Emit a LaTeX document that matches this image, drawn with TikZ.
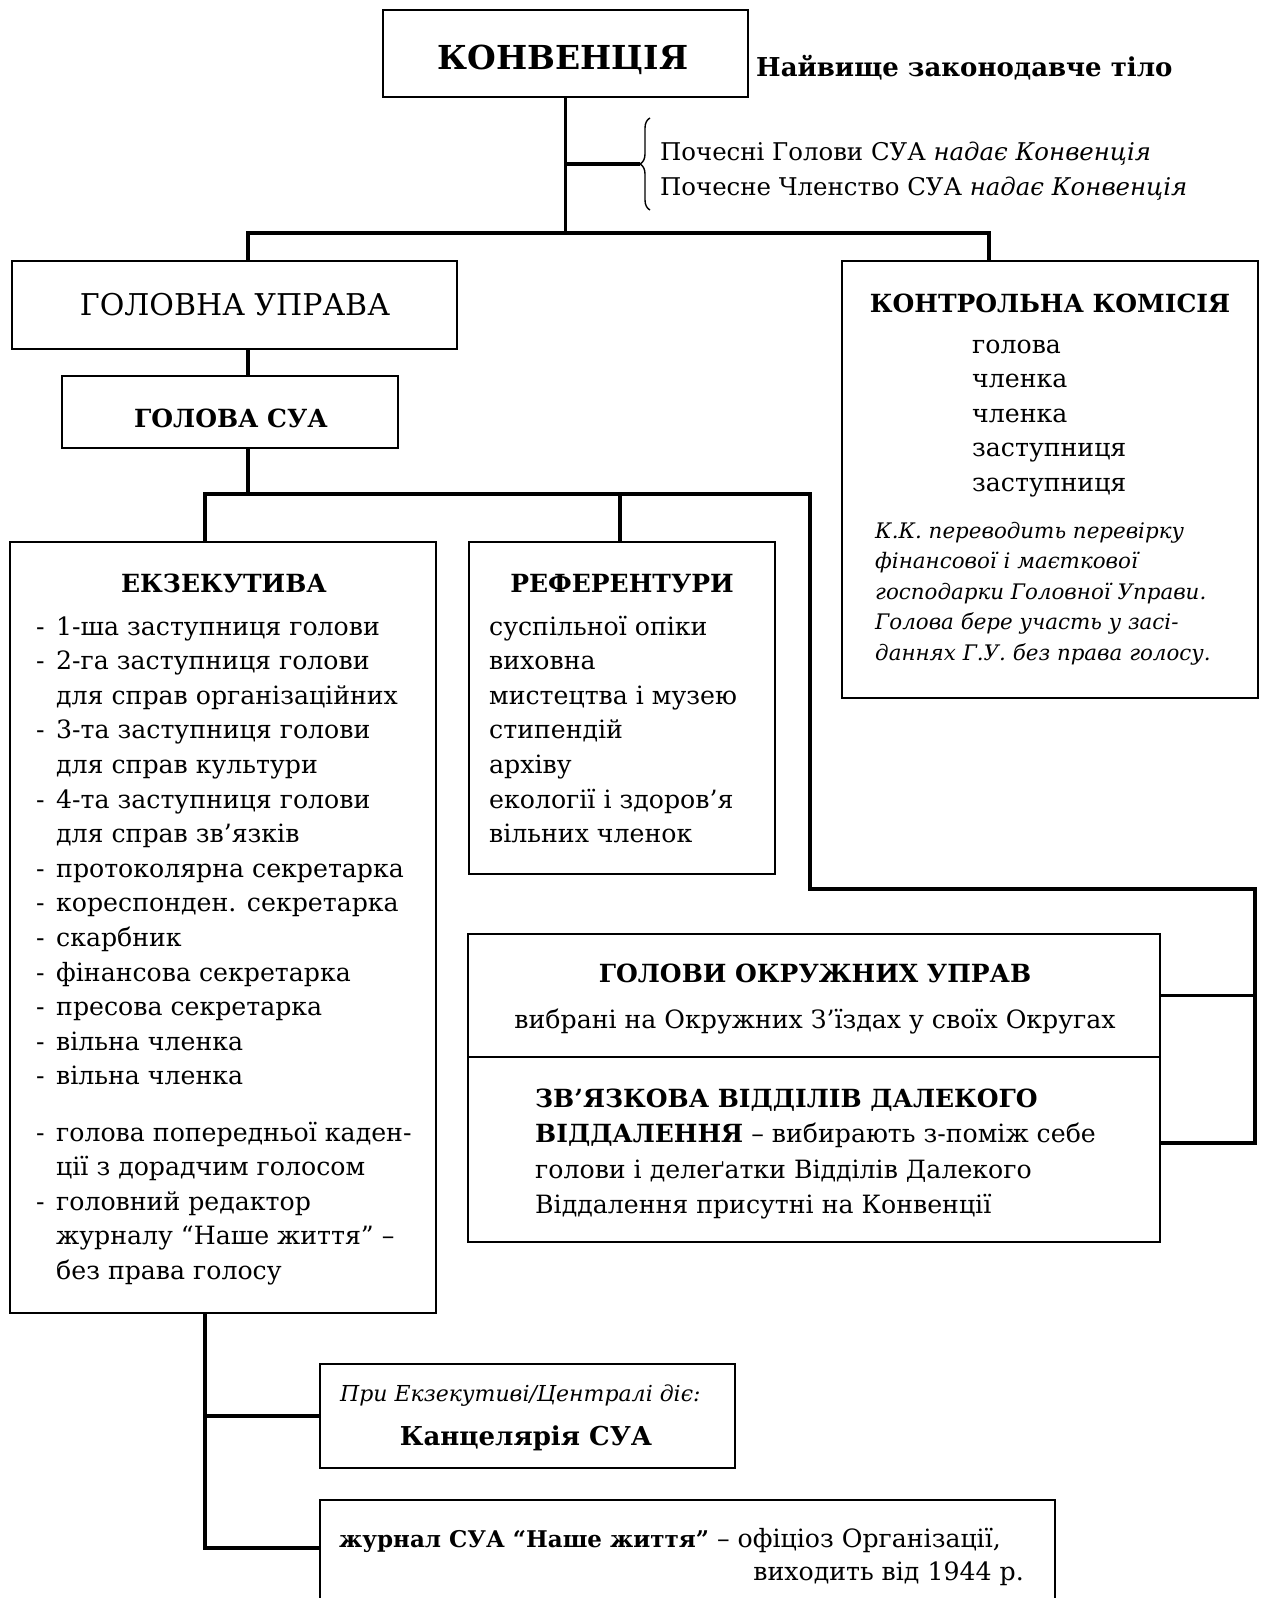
\documentclass[tikz,border=0pt]{standalone}
\usepackage{fontspec}
\setmainfont{DejaVu Serif}
\usetikzlibrary{decorations.pathreplacing}

\newcommand{\fbody}{\normalfont\fontsize{25.2}{30}\selectfont}
\newcommand{\fhead}{\normalfont\fontsize{25}{30}\bfseries\selectfont}
\newcommand{\fnote}{\normalfont\fontsize{21.4}{28}\itshape\selectfont}

\begin{document}
\begin{tikzpicture}[x=1pt, y=-1pt,
    box/.style={draw, line width=2.2pt, inner sep=0pt},
    link/.style={line width=3.4pt},
    item/.style={anchor=base west, inner sep=0pt, font=\fbody},
    head/.style={anchor=base, inner sep=0pt, font=\fhead},
    note/.style={anchor=base west, inner sep=0pt, font=\fnote}]
    \useasboundingbox (0,0) rectangle (1261,1598);

    % Convention
    \node[box, minimum width=365, minimum height=87] (conv) at (565.5,53.5) {};
    \node[head, font=\fontsize{33}{36}\bfseries\selectfont] (convt) at (563,69) {КОНВЕНЦІЯ};
    \node[item, font=\fontsize{26}{30}\bfseries\selectfont] (top) at (756,76) {Найвище законодавче тіло};

    % honorary titles
    \draw[line width=1.4pt, decorate, decoration={brace, amplitude=10pt}] (650,210) -- (650,118);
    \coordinate (brtip) at (640,164);
    \node[item, font=\fontsize{24.4}{30}\selectfont] (hon1) at (660,160) {Почесні Голови СУА \textit{надає Конвенція}};
    \node[item, font=\fontsize{24.4}{30}\selectfont] (hon2) at (660,195) {Почесне Членство СУА \textit{надає Конвенція}};

    % main board and control commission
    \node[box, minimum width=445, minimum height=88] (gu) at (234.5,305) {};
    \node[anchor=base, inner sep=0pt, font=\fontsize{30}{34}\selectfont] (gut) at (235,315) {ГОЛОВНА УПРАВА};
    \node[box, minimum width=336, minimum height=72] (gsua) at (230,412) {};
    \node[head] (gsuat) at (231,427) {ГОЛОВА СУА};

    \node[box, minimum width=416, minimum height=437] (kk) at (1050,479.5) {};
    \node[head] (kkt) at (1050,312) {КОНТРОЛЬНА КОМІСІЯ};
    \foreach \t [count=\i from 0] in {голова, членка, членка, заступниця, заступниця}
        \node[item] (kk\i) at (972,353+34.6*\i) {\t};
    \foreach \t [count=\i from 0] in {К.К. переводить перевірку, фінансової і маєткової,
        господарки Головної Управи., Голова бере участь у засі-, даннях Г.У. без права голосу.}
        \node[note] (kkn\i) at (875,538+30.5*\i) {\t};

    % executive
    \node[box, minimum width=426, minimum height=771] (ekz) at (223,927.5) {};
    \node[head] (ekzt) at (224,592) {ЕКЗЕКУТИВА};
    \foreach \d/\t [count=\i from 0] in {1/1-ша заступниця голови, 1/2-га заступниця голови,
        0/для справ організаційних, 1/3-та заступниця голови, 0/для справ культури,
        1/4-та заступниця голови, 0/для справ зв’язків, 1/протоколярна секретарка,
        1/кореспонден. секретарка, 1/скарбник, 1/фінансова секретарка,
        1/пресова секретарка, 1/вільна членка, 1/вільна членка} {
        \node[item] (ekz\i) at (56,635+34.6*\i) {\t};
        \ifnum\d=1 \node[item] (ekzd\i) at (36,635+34.6*\i) {-}; \fi
    }
    \foreach \d/\t [count=\i from 0] in {1/голова попередньої каден-, 0/ції з дорадчим голосом,
        1/головний редактор, 0/журналу “Наше життя” –, 0/без права голосу} {
        \node[item] (ekzb\i) at (56,1141+34.6*\i) {\t};
        \ifnum\d=1 \node[item] (ekzbd\i) at (36,1141+34.6*\i) {-}; \fi
    }

    % referents
    \node[box, minimum width=306, minimum height=332] (ref) at (622,708) {};
    \node[head] (reft) at (622,592) {РЕФЕРЕНТУРИ};
    \foreach \t [count=\i from 0] in {суспільної опіки, виховна, мистецтва і музею,
        стипендій, архіву, екології і здоров’я, вільних членок}
        \node[item] (ref\i) at (489,635+34.6*\i) {\t};

    % district heads
    \node[box, minimum width=692, minimum height=123] (okr) at (814,995.5) {};
    \node[head] (okrt) at (815,982) {ГОЛОВИ ОКРУЖНИХ УПРАВ};
    \node[anchor=base, inner sep=0pt, font=\fbody] (okrs) at (815,1028) {вибрані на Окружних З’їздах у своїх Округах};
    \node[box, minimum width=692, minimum height=185] (zv) at (814,1149.5) {};
    \node[item, font=\fhead] (zv0) at (535,1107) {ЗВ’ЯЗКОВА ВІДДІЛІВ ДАЛЕКОГО};
    \node[item] (zv1) at (535,1142) {\fhead ВІДДАЛЕННЯ\fbody\ – вибирають з-поміж себе};
    \node[item] (zv2) at (535,1178) {голови і делеґатки Відділів Далекого};
    \node[item] (zv3) at (535,1213) {Віддалення присутні на Конвенції};

    % office and journal
    \node[box, minimum width=415, minimum height=104] (kanc) at (527.5,1416) {};
    \node[note, font=\fontsize{22}{30}\itshape\selectfont] (kanc0) at (340,1401) {При Екзекутиві/Централі діє:};
    \node[head, font=\fontsize{26}{30}\bfseries\selectfont] (kanc1) at (526,1445) {Канцелярія СУА};
    \node[box, minimum width=735, minimum height=140] (jur) at (687.5,1570) {};
    \node[item] (jur0) at (339,1547) {\normalfont\fontsize{23}{30}\bfseries\selectfont журнал СУА “Наше життя”\fbody\ – офіціоз Організації,};
    \node[item, anchor=base east] (jur1) at (1024,1580) {виходить від 1944 р.};

    % connectors
    \coordinate (b1l) at (248,233);
    \coordinate (b1r) at (989,233);
    \coordinate (b2l) at (205,494);
    \coordinate (b2j) at (248,494);
    \coordinate (b2m) at (620,494);
    \coordinate (b2r) at (810,494);
    \coordinate (ra) at (810,889);
    \coordinate (rb) at (1255,889);
    \coordinate (rc) at (1255,1143);
    \coordinate (bt) at (205,1548);
    \draw[link] (conv.south) -- (conv.south |- b1l);
    \draw[link] (conv.south |- brtip) -- (brtip);
    \draw[link] (b1l |- gu.north) -- (b1l) -- (b1r) -- (b1r |- kk.north);
    \draw[link] (b1l |- gu.south) -- (b1l |- gsua.north);
    \draw[link] (b2j |- gsua.south) -- (b2j);
    \draw[link] (b2l |- ekz.north) -- (b2l) -- (b2r) -- (ra) -- (rb) -- (rc) -- (rc -| zv.east);
    \draw[link] (b2m) -- (b2m |- ref.north);
    \draw[link] (rb |- okr.east) -- (okr.east);
    \draw[link] (bt |- ekz.south) -- (bt) -- (bt -| jur.west);
    \draw[link] (bt |- kanc.west) -- (kanc.west);
\end{tikzpicture}
\end{document}
